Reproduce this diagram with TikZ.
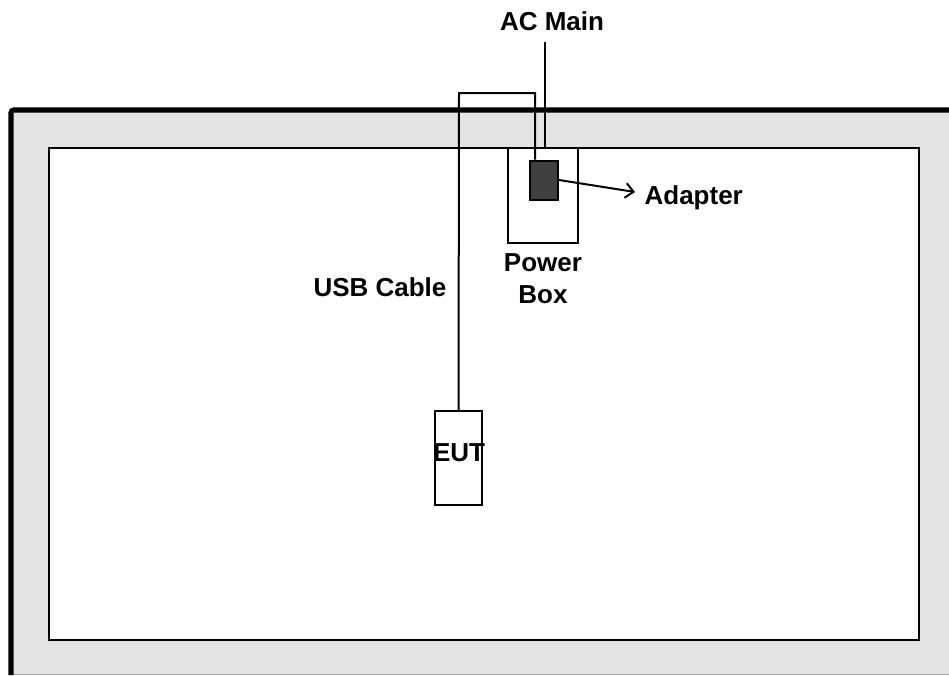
\documentclass[tikz,border=0pt]{standalone}
\usepackage{fontspec}
\setmainfont{Liberation Sans}
\usetikzlibrary{positioning,arrows.meta}
\definecolor{bandgray}{HTML}{E3E3E3}
\definecolor{adaptergray}{HTML}{404040}
\tikzset{
  lbl/.style={font=\fontsize{19.5}{24}\selectfont\bfseries, inner sep=1pt, align=center},
  box/.style={draw, line width=1.5pt, fill=white, inner sep=0pt},
  cable/.style={line width=1.5pt}
}
\begin{document}
\begin{tikzpicture}[x=0.75pt,y=-0.75pt]
        \useasboundingbox (0,0) rectangle (949,675);

        % room and table
        \fill [bandgray] (11,110) rectangle (949,675);
        \draw [gray!70, line width=0.8pt] (11,674.5) -- (949,674.5);
        \draw [line width=3.8pt, rounded corners=2pt] (11,675) -- (11,110) -- (949,110);
        \draw [line width=1.5pt, fill=white] (49,148) rectangle (919,640);

        \node [box, minimum width=70*0.75pt, minimum height=95*0.75pt](pbox)at(543,195){};
        \node [box, fill=adaptergray, minimum width=28*0.75pt, minimum height=39*0.75pt](adapter)at(544,180){};
        \node [box, minimum width=47*0.75pt, minimum height=94*0.75pt](eut)at(458.5,458){};
        \node [lbl](euttext)at(459,453){EUT};

        \node [lbl](acmain)at(552,21){AC Main};
        \node [lbl](pboxlabel)at(543,279){Power\\Box};
        \node [lbl](usblabel)at(380,287){USB Cable};
        \node [lbl, anchor=west](adapterlabel)at(643,198){Adapter};

        \coordinate (usbl) at (459,93);
        \coordinate (usbr) at (535,93);
        \coordinate (tip) at (635,192);

        % cables
        \draw [cable] (eut.north) -- (usbl) -- (usbr) -- (usbr |- adapter.north);
        \draw [cable] (545,42) -- (545,148);
        \draw [cable, -{Straight Barb[length=6pt,width=11pt]}] (adapter.east) -- (tip);
    \end{tikzpicture}
\end{document}
